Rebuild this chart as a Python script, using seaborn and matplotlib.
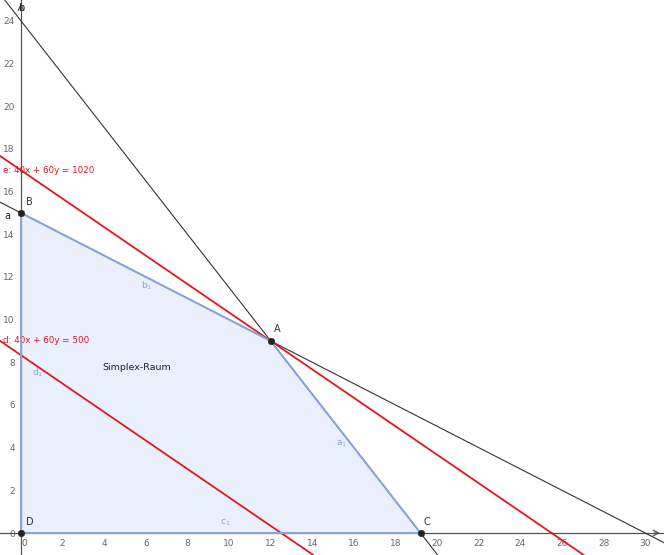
import matplotlib
matplotlib.use("Agg")
import matplotlib.pyplot as plt
import seaborn as sns
import pandas as pd

# ---- data ----
# constraint lines  a*x + b*y = c
line_names = ["a", "b"]
line_a = [1, 5]
line_b = [2, 4]
line_c = [30, 96]

# objective lines 40x + 60y = c
obj_names = ["e", "d"]
obj_c = [1020, 500]

# simplex region vertices
pt_names = ["D", "B", "A", "C"]
pt_x = [0, 0, 12, 19.2]
pt_y = [0, 15, 9, 0]

edge_names = ["d$_1$", "b$_1$", "a$_1$", "c$_1$"]

x_ticks = list(range(0, 31, 2))
y_ticks = list(range(0, 25, 2))

# ---- figure ----
sns.set_style("white")
plt.rcParams['font.family'] = ['DejaVu Sans']

fig = plt.figure(figsize=(6.64, 5.55), dpi=100)
ax = fig.add_axes([0, 0, 1, 1])
ax.set_xlim(-1.01, 30.9)
ax.set_ylim(-1.03, 24.98)

fill_col = "#e9f0fc"
edge_col = "#86a3e0"
red = "#e4161e"

# region
ax.fill(pt_x, pt_y, color=fill_col, zorder=1, lw=0)
poly_x = pt_x + [pt_x[0]]
poly_y = pt_y + [pt_y[0]]
ax.plot(poly_x, poly_y, color=edge_col, lw=1.4, zorder=5)

# black constraint lines
for a, b, c in zip(line_a, line_b, line_c):
    ax.axline((0, c / b), slope=-a / b, color="#333333", lw=0.8, zorder=3)

# red objective lines
for c in obj_c:
    ax.axline((0, c / 60), slope=-40 / 60, color=red, lw=1.3, zorder=4)

# points
pts = pd.DataFrame({"x": pt_x, "y": pt_y, "name": pt_names})
sns.scatterplot(data=pts, x="x", y="y", color="#222222", s=22, zorder=6,
                edgecolor="#222222", ax=ax, legend=False)

# axes through origin
for s in ["top", "right"]:
    ax.spines[s].set_visible(False)
for s in ["left", "bottom"]:
    ax.spines[s].set_position(("data", 0))
    ax.spines[s].set_color("#555555")
    ax.spines[s].set_linewidth(0.9)
    ax.spines[s].set_zorder(2)
ax.annotate("", xy=(30.85, 0), xytext=(30.3, 0),
            arrowprops=dict(arrowstyle="->", color="#555555", lw=0.9))
ax.annotate("", xy=(0, 24.95), xytext=(0, 24.4),
            arrowprops=dict(arrowstyle="->", color="#555555", lw=0.9))

ax.set_xticks(x_ticks)
ax.set_yticks(y_ticks)
ax.set_xticks(range(1, 31, 2), minor=True)
ax.set_yticks(range(1, 25, 2), minor=True)
ax.tick_params(which="major", direction="inout", length=5, width=0.8,
               color="#555555", labelsize=6.5, labelcolor="#666666", pad=2)
ax.tick_params(which="minor", direction="inout", length=3, width=0.6,
               color="#777777")
ax.set_xlabel("")
ax.set_ylabel("")
ax.get_xticklabels()[0].set_horizontalalignment("left")

# labels
ax.text(-0.88, 16.97, "e: 40x + 60y = 1020", color=red, fontsize=6.3, va="center")
ax.text(-0.88, 9.0, "d: 40x + 60y = 500", color=red, fontsize=6.3, va="center")
ax.text(-0.8, 14.86, "a", color="#222222", fontsize=7, va="center")
ax.text(-0.15, 24.6, "b", color="#222222", fontsize=7, va="center")

pt_lab_x = [0.22, 0.22, 12.15, 19.35]
pt_lab_y = [0.3, 15.3, 9.35, 0.3]
for nm, lx, ly in zip(pt_names, pt_lab_x, pt_lab_y):
    ax.text(lx, ly, nm, color="#333333", fontsize=7, va="bottom")

edge_lab_x = [0.55, 5.75, 15.15, 9.55]
edge_lab_y = [7.5, 11.6, 4.2, 0.5]
for nm, lx, ly in zip(edge_names, edge_lab_x, edge_lab_y):
    ax.text(lx, ly, nm, color=edge_col, fontsize=6.5, va="center")

ax.text(3.9, 7.78, "Simplex-Raum", color="#222222", fontsize=6.8, va="center")

fig.savefig("out.png", dpi=100)
